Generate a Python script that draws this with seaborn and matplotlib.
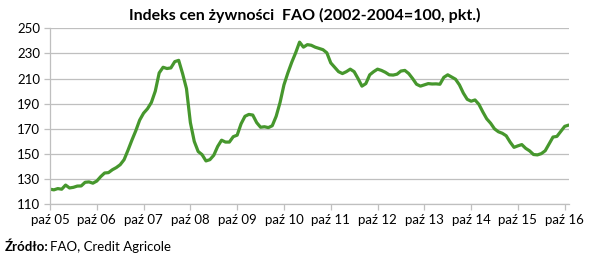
import numpy as np
import pandas as pd
import matplotlib
matplotlib.use("Agg")
import matplotlib.pyplot as plt
import seaborn as sns

# Monthly FAO food price index, Oct 2005 - Nov 2016
index_values = [
    122, 121.5, 122.5, 122, 125.3, 123, 123.5, 124.5, 124.6, 127.5, 127.8, 126.8,
    128.5, 132, 134.9, 135.2, 137.5, 139.2, 141.5, 145.5, 153, 161, 168.5, 177,
    182.5, 186, 191, 200, 214.5, 219, 218, 218.5, 223.5, 224.5, 214, 202,
    175, 160, 152, 149.5, 144.5, 145.5, 149, 156, 161, 159.5, 159.5, 163.8,
    165, 174, 180, 181.5, 181, 175, 171.3, 171.7, 171, 172.5, 180, 191,
    205, 214.5, 223, 230.5, 239, 235, 237, 236.5, 235, 234, 233, 230.5,
    222.5, 219, 215.5, 214, 215.5, 217.5, 215.5, 210, 204, 206, 213, 215.5,
    217.5, 216.5, 215, 213, 212.8, 213.5, 216, 216.5, 214, 210, 205.5, 204,
    205, 206, 205.7, 205.8, 205.5, 211, 213, 211.3, 209.5, 205, 198.5, 193.5,
    192, 193, 189.5, 183.5, 178, 174.5, 170, 167.7, 166.5, 164.5, 159.5, 155.3,
    156.5, 157.5, 154.5, 152.5, 149.6, 149.3, 150.3, 152.6, 158, 163.5, 164, 168,
    172, 173,
]
tick_labels = ["paź 05", "paź 06", "paź 07", "paź 08", "paź 09", "paź 10",
               "paź 11", "paź 12", "paź 13", "paź 14", "paź 15", "paź 16"]
y_ticks = [110, 130, 150, 170, 190, 210, 230, 250]

title = "Indeks cen żywności  FAO (2002-2004=100, pkt.)"

df = pd.DataFrame({"month": np.arange(len(index_values)), "value": index_values})

sns.set_theme(style="white")
plt.rcParams["font.family"] = ["Lato", "DejaVu Sans"]

fig = plt.figure(figsize=(5.92, 2.61), dpi=100)
ax = fig.add_axes([50 / 592, 1 - 204.3 / 261, (568.6 - 50) / 592, (204.3 - 28.3) / 261])

sns.lineplot(data=df, x="month", y="value", ax=ax, color="#46972D", linewidth=2.3)

ax.set_xlim(0, len(index_values) - 1)
ax.set_ylim(110, 250)
ax.set_yticks(y_ticks)
ax.set_yticklabels([str(v) for v in y_ticks], fontsize=9.5, color="#000000")
ax.set_xticks([12 * i for i in range(len(tick_labels))])
ax.set_xticklabels(tick_labels, fontsize=9.5, color="#000000")
ax.set_xlabel("")
ax.set_ylabel("")

ax.grid(axis="y", color="#BFBFBF", linewidth=0.9)
ax.grid(axis="x", visible=False)
for side in ["top", "right"]:
    ax.spines[side].set_visible(False)
for side in ["left", "bottom"]:
    ax.spines[side].set_color("#BFBFBF")
    ax.spines[side].set_linewidth(0.9)
ax.tick_params(axis="both", which="major", length=4, width=0.9, color="#BFBFBF",
               direction="out", pad=3, bottom=True, left=True)

fig.text(305 / 592, 1 - 15 / 261, title, ha="center", va="center",
         fontsize=11.5, fontweight="bold", color="#000000")
fig.text(5 / 592, 1 - 247 / 261, "Źródło:", ha="left", va="center",
         fontsize=9.5, fontweight="bold", color="#000000")
fig.text(50 / 592, 1 - 247 / 261, "FAO, Credit Agricole", ha="left", va="center",
         fontsize=9.5, color="#000000")

fig.savefig("out.png", dpi=100)
